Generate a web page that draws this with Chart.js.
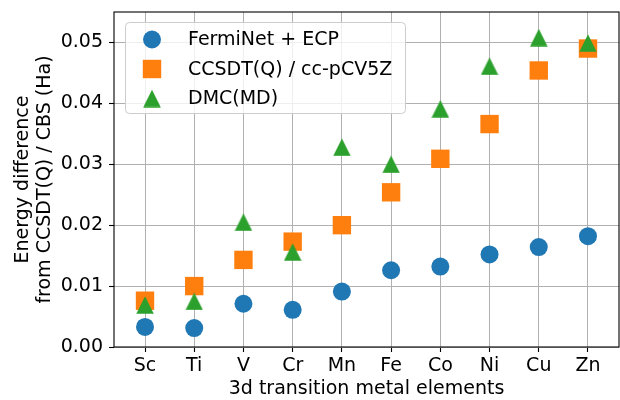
<!DOCTYPE html>
<html>
  <head>
    <meta charset="utf-8">
    <style type="text/css">
      body { margin: 0; background: #ffffff; }
      .chart-container { width: 620px; height: 400px; }
    </style>
  </head>
  <body>
    <script src="https://cdn.jsdelivr.net/npm/chart.js@4.4.1/dist/chart.umd.min.js"></script>

    <div class="chart-container">
      <canvas id="myChart" width="620" height="400"></canvas>
    </div>

    <script>
      /* datas */
      const elements = ['Sc', 'Ti', 'V', 'Cr', 'Mn', 'Fe', 'Co', 'Ni', 'Cu', 'Zn'];
      const ferminet = [0.0033, 0.0031, 0.0071, 0.0061, 0.0091, 0.0126, 0.0132, 0.0152, 0.0164, 0.0182];
      const ccsdtq = [0.0076, 0.0100, 0.0143, 0.0173, 0.0200, 0.0254, 0.0309, 0.0366, 0.0454, 0.0490];
      const dmc = [0.0069, 0.0075, 0.0205, 0.0156, 0.0328, 0.0300, 0.0391, 0.0461, 0.0508, 0.0499];
      const yTicks = [0.00, 0.01, 0.02, 0.03, 0.04, 0.05];
      const seriesNames = ['FermiNet + ECP', 'CCSDT(Q) / cc-pCV5Z', 'DMC(MD)'];

      const FONT = 'DejaVu Sans';
      const blue = '#1f77b4', orange = '#ff7f0e', green = '#2ca02c';

      // matplotlib style '^' marker: centred on its bounding box
      function makeTriangle(size, color) {
        const c = document.createElement('canvas');
        c.width = size; c.height = size;
        const g = c.getContext('2d');
        g.fillStyle = color;
        g.beginPath();
        g.moveTo(size / 2, 0.25);
        g.lineTo(0.25, size - 0.25);
        g.lineTo(size - 0.25, size - 0.25);
        g.closePath();
        g.fill();
        return c;
      }
      const triangle = makeTriangle(18, green);

      const toPoints = (arr) => arr.map((v, i) => ({x: i, y: v}));

      // legend drawn inside the axes, like matplotlib's loc='upper left'
      const insideLegend = {
        id: 'insideLegend',
        afterDraw(chart) {
          const ctx = chart.ctx;
          const area = chart.chartArea;
          const x0 = area.left + 11, y0 = area.top + 10.5, w = 280, h = 91;
          ctx.save();
          ctx.beginPath();
          ctx.roundRect(x0 + 0.5, y0, w, h, 4);
          ctx.fillStyle = 'rgba(255,255,255,0.8)';
          ctx.fill();
          ctx.strokeStyle = '#cccccc';
          ctx.lineWidth = 1;
          ctx.stroke();

          const mx = x0 + 27, tx = x0 + 63;
          const rows = [y0 + 17, y0 + 46.5, y0 + 76];
          // circle
          ctx.fillStyle = blue;
          ctx.beginPath();
          ctx.arc(mx, rows[0], 9, 0, 2 * Math.PI);
          ctx.fill();
          // square
          ctx.fillStyle = orange;
          ctx.fillRect(mx - 9.2, rows[1] - 9.2, 18.4, 18.4);
          // triangle
          ctx.drawImage(triangle, mx - 9, rows[2] - 9);

          ctx.fillStyle = '#000000';
          ctx.font = '19px "' + FONT + '"';
          ctx.textBaseline = 'middle';
          ctx.textAlign = 'left';
          seriesNames.forEach((name, i) => ctx.fillText(name, tx, rows[i] + 1));
          ctx.restore();
        }
      };

      // four black spines drawn over the grid
      const spines = {
        id: 'spines',
        afterDatasetsDraw(chart) {
          const ctx = chart.ctx;
          const a = chart.chartArea;
          ctx.save();
          ctx.strokeStyle = '#000000';
          ctx.lineWidth = 1.1;
          ctx.strokeRect(a.left, a.top, a.right - a.left, a.bottom - a.top);
          ctx.restore();
        }
      };

      const myChart = new Chart('myChart', {
        type: 'scatter',
        data: {
          datasets: [{
            label: seriesNames[0],
            data: toPoints(ferminet),
            pointStyle: 'circle',
            pointRadius: 9,
            pointHoverRadius: 9,
            pointBorderWidth: 0,
            backgroundColor: blue,
            borderColor: blue,
            order: 3
          },
          {
            label: seriesNames[1],
            data: toPoints(ccsdtq),
            pointStyle: 'rect',
            pointRadius: 13,
            pointHoverRadius: 13,
            pointBorderWidth: 0,
            backgroundColor: orange,
            borderColor: orange,
            order: 2
          },
          {
            label: seriesNames[2],
            data: toPoints(dmc),
            pointStyle: triangle,
            pointRadius: 9,
            pointBorderWidth: 0,
            backgroundColor: green,
            borderColor: green,
            order: 1
          }]
        },
        options: {
          responsive: false,
          animation: false,
          layout: { autoPadding: false, padding: { left: 0, right: 1, top: 12, bottom: 0 } },
          plugins: {
            legend: { display: false },
            tooltip: { enabled: false }
          },
          scales: {
            x: {
              type: 'linear',
              min: -0.63,
              max: 9.63,
              afterBuildTicks: (scale) => { scale.ticks = elements.map((_, i) => ({value: i})); },
              afterFit: (scale) => {
                scale.height = 53;
                scale.paddingLeft = 0;
                scale.paddingRight = 0;
              },
              ticks: {
                callback: (value) => elements[value],
                color: '#000000',
                padding: 3,
                maxRotation: 0,
                autoSkip: false,
                font: { family: FONT, size: 19 }
              },
              grid: {
                color: '#b0b0b0',
                lineWidth: 1,
                drawTicks: true,
                tickLength: 5,
                tickColor: '#000000',
                tickWidth: 1.1
              },
              border: { display: false },
              title: {
                display: true,
                text: '3d transition metal elements',
                color: '#000000',
                padding: { top: 0, bottom: 0 },
                font: { family: FONT, size: 19, lineHeight: 1.16 }
              }
            },
            y: {
              type: 'linear',
              min: 0,
              max: 0.055,
              afterBuildTicks: (scale) => { scale.ticks = yTicks.map((v) => ({value: v})); },
              afterFit: (scale) => {
                scale.width = 114;
                scale.paddingTop = 0;
                scale.paddingBottom = 0;
              },
              ticks: {
                callback: (value) => value.toFixed(2),
                color: '#000000',
                padding: 6,
                font: { family: FONT, size: 19 }
              },
              grid: {
                color: '#b0b0b0',
                lineWidth: 1,
                drawTicks: true,
                tickLength: 5,
                tickColor: '#000000',
                tickWidth: 1.1
              },
              border: { display: false },
              title: {
                display: true,
                text: ['Energy difference', 'from CCSDT(Q) / CBS (Ha)'],
                color: '#000000',
                padding: { top: 12, bottom: 0 },
                font: { family: FONT, size: 19, lineHeight: 1.16 }
              }
            }
          }
        },
        plugins: [spines, insideLegend]
      });
    </script>
  </body>
</html>
